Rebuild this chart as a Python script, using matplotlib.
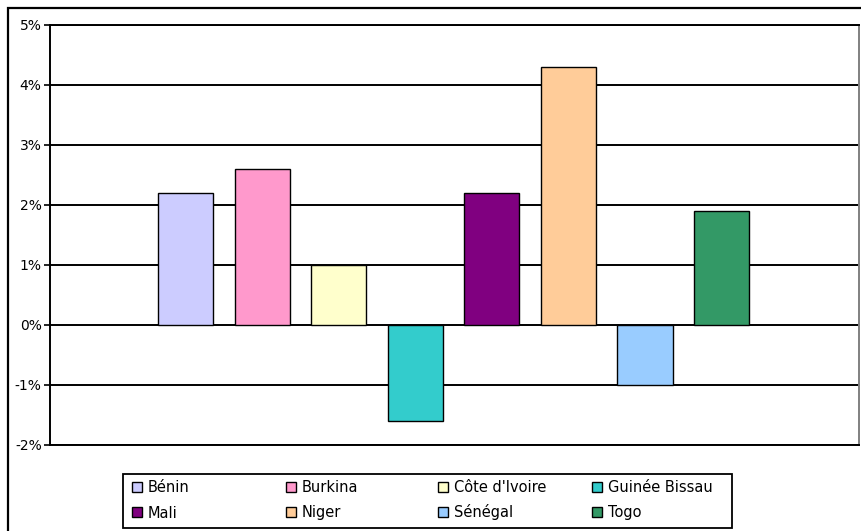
import matplotlib
matplotlib.use("Agg")
import matplotlib.pyplot as plt
import matplotlib.patches as mpatches
from matplotlib.ticker import FuncFormatter

countries = ["Bénin", "Burkina", "Côte d'Ivoire", "Guinée Bissau",
             "Mali", "Niger", "Sénégal", "Togo"]
values = [2.2, 2.6, 1.0, -1.6, 2.2, 4.3, -1.0, 1.9]
colors = ["#CCCCFF", "#FF99CC", "#FFFFCC", "#33CCCC",
          "#800080", "#FFCC99", "#99CCFF", "#339966"]
yticks = [-2, -1, 0, 1, 2, 3, 4, 5]

W, H = 861, 531
fig = plt.figure(figsize=(W / 100, H / 100), dpi=100)
plt.rcParams['font.family'] = ['DejaVu Sans']

def px(x, y):
    # pixel coords (top-left origin) -> figure fraction
    return x / W, 1 - y / H

# outer chart border (runs off right/bottom of image)
fig.patches.append(mpatches.Rectangle((8 / W, -0.1), 1.2, 1 - 8 / H + 0.1,
                                      transform=fig.transFigure, fill=False,
                                      edgecolor='black', linewidth=1.6))

ax = fig.add_axes([50 / W, (H - 445) / H, (859 - 50) / W, (445 - 25) / H])
ax.set_axisbelow(True)
ax.yaxis.grid(True, color='black', linewidth=1.4)

x = range(len(values))
ax.bar(x, values, width=0.72, color=colors, edgecolor='black',
       linewidth=1.0, zorder=3)

ax.set_xlim(-1.77, 8.795)
ax.set_ylim(-2, 5)
ax.set_yticks(yticks)
ax.yaxis.set_major_formatter(FuncFormatter(lambda v, p: '%d%%' % v))
ax.set_xticks([])
ax.tick_params(axis='y', length=4, width=1.2, labelsize=10, pad=2)

for s in ['left', 'bottom', 'top']:
    ax.spines[s].set_linewidth(1.4)
    ax.spines[s].set_color('black')
ax.spines['right'].set_color('#808080')
ax.spines['right'].set_linewidth(1.4)

# legend drawn by hand: Excel style, equal-width columns, row-wise order
x0, y0 = px(123, 528)
x1, y1 = px(732, 474)
fig.patches.append(mpatches.Rectangle((x0, y0), x1 - x0, y1 - y0,
                                      transform=fig.transFigure, fill=False,
                                      edgecolor='black', linewidth=1.3))
col_x = [132, 286, 438, 592]
row_y = [487, 512]
sq = 10
for i, (lab, c) in enumerate(zip(countries, colors)):
    cx = col_x[i % 4]
    cy = row_y[i // 4]
    mx, my = px(cx, cy + sq / 2)
    fig.patches.append(mpatches.Rectangle((mx, my), sq / W, sq / H,
                                          transform=fig.transFigure,
                                          facecolor=c, edgecolor='black',
                                          linewidth=1.0))
    tx, ty = px(cx + sq + 6, cy + 5.5)
    fig.text(tx, ty, lab, fontsize=10.5, ha='left', va='baseline')

fig.savefig('out.png', dpi=100)
